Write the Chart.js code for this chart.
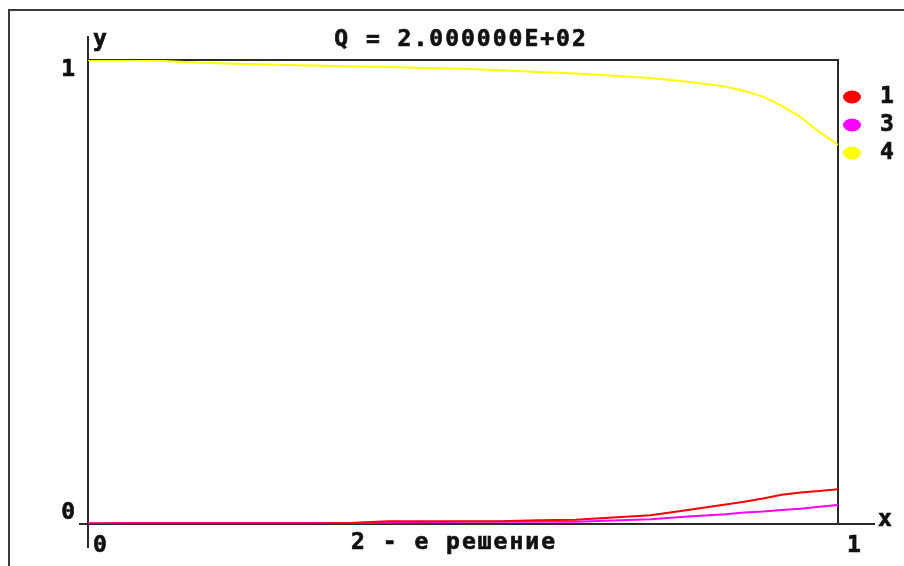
<!DOCTYPE html>
<html>
<head>
<meta charset="utf-8">
<title>Q = 2.000000E+02</title>
<script src="https://cdn.jsdelivr.net/npm/chart.js@4"></script>
<style>
  html, body { margin: 0; padding: 0; background: #fff; }
  #wrap { width: 904px; height: 566px; }
</style>
</head>
<body>
<div id="wrap"><canvas id="lineChart" width="904" height="566"></canvas></div>
<script>
// values
const xValues = [0, 0.05, 0.1, 0.15, 0.2, 0.25, 0.3, 0.35, 0.4, 0.45, 0.5,
  0.55, 0.6, 0.65, 0.7, 0.75, 0.8, 0.85, 0.875, 0.9, 0.925, 0.95, 0.975, 1];
const series1 = [0.001, 0.001, 0.001, 0.001, 0.001, 0.001, 0.001, 0.002, 0.006, 0.006, 0.006,
  0.006, 0.008, 0.009, 0.014, 0.019, 0.030, 0.042, 0.048, 0.055, 0.063, 0.068, 0.071, 0.075];
const series3 = [0.001, 0.002, 0.002, 0.002, 0.002, 0.002, 0.002, 0.002, 0.003, 0.004, 0.005,
  0.005, 0.005, 0.005, 0.0075, 0.010, 0.016, 0.021, 0.025, 0.027, 0.030, 0.033, 0.037, 0.041];
const series4 = [1.0, 1.0, 0.998, 0.994, 0.992, 0.990, 0.988, 0.986, 0.985, 0.983, 0.981,
  0.978, 0.974, 0.971, 0.966, 0.961, 0.953, 0.943, 0.933, 0.921, 0.901, 0.877, 0.845, 0.817];
const seriesLabels = ["1", "3", "4"];
const seriesColors = ["#ff0000", "#ff00ff", "#ffff00"];
const xTicks = [0, 1];
const yTicks = [0, 1];
const titleText = "Q = 2.000000E+02";
const subText = "2 - е решение";

const toPoints = (ys) => xValues.map((x, i) => ({ x: x, y: ys[i] }));
const font = "bold 23px 'DejaVu Sans Mono'";
const ink = "#2a2a2a";

// chunky text like the old bitmap font
function text(ctx, s, x, y) {
  ctx.fillText(s, x, y);
  ctx.strokeText(s, x, y);
}

const decor = {
  id: "decor",
  beforeDraw(chart) {
    const ctx = chart.ctx;
    ctx.save();
    ctx.fillStyle = "#fff";
    ctx.fillRect(0, 0, chart.width, chart.height);
    // outer frame (runs off the right and bottom edges)
    ctx.strokeStyle = "#3a3a3a";
    ctx.lineWidth = 2;
    ctx.strokeRect(9, 10, 1000, 1000);
    ctx.restore();
  },
  beforeDatasetsDraw(chart) {
    const ctx = chart.ctx;
    const a = chart.chartArea;
    ctx.save();
    ctx.strokeStyle = ink;
    ctx.lineWidth = 2;
    ctx.beginPath();
    // y axis, longer than the box
    ctx.moveTo(a.left, a.top - 24);
    ctx.lineTo(a.left, a.bottom + 24);
    // x axis, with a short stub to the left
    ctx.moveTo(a.left - 9, a.bottom);
    ctx.lineTo(a.right + 37, a.bottom);
    // top and right of the box
    ctx.moveTo(a.left, a.top);
    ctx.lineTo(a.right, a.top);
    ctx.lineTo(a.right, a.bottom);
    ctx.stroke();
    ctx.restore();
  },
  afterDraw(chart) {
    const ctx = chart.ctx;
    const a = chart.chartArea;
    const xs = chart.scales.x;
    const ys = chart.scales.y;
    ctx.save();
    ctx.font = font;
    ctx.fillStyle = "#111";
    ctx.strokeStyle = "#111";
    ctx.lineWidth = 0.7;
    ctx.letterSpacing = "2px";

    ctx.textAlign = "center";
    ctx.textBaseline = "alphabetic";
    text(ctx, titleText, 461, 46);
    text(ctx, subText, 454, 549);

    // y tick labels
    ctx.textAlign = "right";
    yTicks.forEach((v) => {
      const py = ys.getPixelForValue(v);
      if (v === 1) {
        ctx.textBaseline = "top";
        text(ctx, String(v), a.left - 11, py - 1);
      } else {
        ctx.textBaseline = "bottom";
        text(ctx, String(v), a.left - 11, py + 1);
      }
    });

    // x tick labels
    ctx.textAlign = "left";
    ctx.textBaseline = "top";
    xTicks.forEach((v) => {
      const px = xs.getPixelForValue(v);
      text(ctx, String(v), px + (v === 0 ? 5 : 9), a.bottom + 11);
    });

    // axis names
    ctx.textBaseline = "alphabetic";
    text(ctx, "y", a.left + 5, a.top - 14);
    ctx.textBaseline = "middle";
    text(ctx, "x", a.right + 40, a.bottom - 4);

    // legend
    seriesLabels.forEach((lab, i) => {
      const cy = 97 + i * 28;
      ctx.fillStyle = seriesColors[i];
      ctx.beginPath();
      ctx.ellipse(a.right + 14, cy, 9, 6.5, 0, 0, Math.PI * 2);
      ctx.fill();
      ctx.fillStyle = "#111";
      ctx.textBaseline = "middle";
      text(ctx, lab, a.right + 42, cy);
    });
    ctx.restore();
  },
};

var ctx = document.getElementById("lineChart").getContext("2d");
var lineChart = new Chart(ctx, {
  type: "line",
  data: {
    datasets: [
      { label: seriesLabels[0], data: toPoints(series1), borderColor: seriesColors[0], borderWidth: 2 },
      { label: seriesLabels[1], data: toPoints(series3), borderColor: seriesColors[1], borderWidth: 2 },
      { label: seriesLabels[2], data: toPoints(series4), borderColor: seriesColors[2], borderWidth: 2 },
    ],
  },
  options: {
    responsive: false,
    animation: false,
    layout: { padding: { left: 88, top: 60, right: 66, bottom: 42 } },
    elements: { point: { radius: 0 }, line: { tension: 0 } },
    scales: {
      x: { type: "linear", min: 0, max: 1, display: false },
      y: { min: 0, max: 1, display: false },
    },
    plugins: {
      legend: { display: false },
      title: { display: false },
      tooltip: { enabled: false },
    },
  },
  plugins: [decor],
});
</script>
</body>
</html>
